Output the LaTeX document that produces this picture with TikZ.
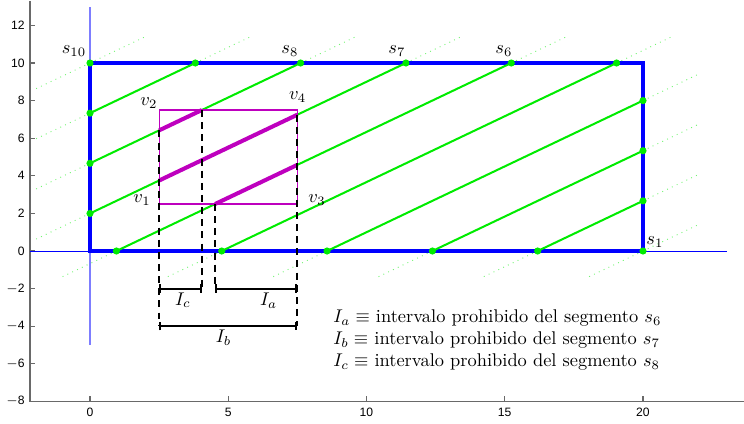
\documentclass[tikz,border=0pt]{standalone}
\usepackage{fontspec}
\newfontfamily\tickfont{Liberation Sans}
\usetikzlibrary{arrows.meta}
\definecolor{lgreen}{RGB}{0,235,0}
\definecolor{mpurple}{RGB}{190,0,190}
\definecolor{axgray}{RGB}{105,105,105}
\definecolor{lblue}{RGB}{125,125,255}
\begin{document}
\begin{tikzpicture}[x=15.03pt,y=10.22pt,
  frame/.style={blue, line width=1.7pt, line join=miter},
  seg/.style={lgreen, line width=1.1pt},
  ext/.style={lgreen!55, line width=0.5pt, dash pattern=on 0.5pt off 2.4pt},
  dot/.style={circle, fill=lgreen, inner sep=0pt, minimum size=3.9pt},
  hl/.style={mpurple, line width=2.2pt},
  guide/.style={black, line width=1.1pt, dash pattern=on 3.8pt off 2.8pt},
  brk/.style={black, line width=1.1pt, {Bar[width=4.6pt]}-{Bar[width=4.6pt]}},
  lab/.style={inner sep=0pt},
  axis/.style={axgray, line width=0.6pt},
  tick/.style={font=\tickfont\fontsize{6.6}{7}\selectfont, inner sep=0pt}]
\useasboundingbox (-3.2550,-9.149) rectangle (23.653,13.351);
% axes
\coordinate (axTL) at (-2.17,13.3);
\coordinate (axBL) at (-2.17,-8);
\coordinate (axBR) at (23.653,-8);
\draw[axis] (axTL) -- (axBL) -- (axBR);
\foreach \y/\t in {-8/$-$8,-6/$-$6,-4/$-$4,-2/$-$2,0/0,2/2,4/4,6/6,8/8,10/10,12/12} {
  \draw[axis] (-2.17,\y) -- ++(0.18,0);
  \node[tick, anchor=east] (yl\y) at ([xshift=-2.7pt]-2.17,\y) {\t};
}
\foreach \x in {0,5,...,20} {
  \draw[axis] (\x,-8) -- ++(0,0.27);
  \node[tick, anchor=north] (xl\x) at ([yshift=-3.6pt]\x,-8) {\x};
}
% reference lines
\coordinate (vtop) at (0,13);
\coordinate (vbot) at (0,-5);
\draw[lblue, line width=0.9pt] (vbot) -- (vtop);
\coordinate (hleft) at (-2.17,0);
\coordinate (hright) at (23.04,0);
\draw[blue, line width=0.55pt] (hleft) -- (hright);
% rectangle
\coordinate (c00) at (0,0);
\coordinate (c20) at (20,0);
\coordinate (c22) at (20,10);
\coordinate (c02) at (0,10);
\draw[frame] (c00) -- (c20) -- (c22) -- (c02) -- cycle;
% intersection points
\coordinate (p1) at (20,0);
\coordinate (b2) at (16.191,0);   \coordinate (r2) at (20,2.667);
\coordinate (b3) at (12.382,0);   \coordinate (r3) at (20,5.334);
\coordinate (b4) at (8.573,0);    \coordinate (r4) at (20,8.001);
\coordinate (b5) at (4.764,0);    \coordinate (t5) at (19.045,10);
\coordinate (b6) at (0.955,0);    \coordinate (t6) at (15.236,10);
\coordinate (l7) at (0,1.9986);   \coordinate (t7) at (11.427,10);
\coordinate (l8) at (0,4.6657);   \coordinate (t8) at (7.618,10);
\coordinate (l9) at (0,7.3329);   \coordinate (t9) at (3.809,10);
\coordinate (p10) at (0,10);
% dotted extensions
\foreach \a in {p1,b2,b3,b4,b5,b6,l7,l8,l9,p10}
  \draw[ext] (\a) -- ++(-2,-1.4004);
\foreach \b in {p1,r2,r3,r4,t5,t6,t7,t8,t9,p10}
  \draw[ext] (\b) -- ++(2,1.4004);
% green segments
\draw[seg] (b2) -- (r2);
\draw[seg] (b3) -- (r3);
\draw[seg] (b4) -- (r4);
\draw[seg] (b5) -- (t5);
\draw[seg] (b6) -- (t6);
\draw[seg] (l7) -- (t7);
\draw[seg] (l8) -- (t8);
\draw[seg] (l9) -- (t9);
\foreach \p in {p1,b2,r2,b3,r3,b4,r4,b5,t5,b6,t6,l7,t7,l8,t8,l9,t9,p10}
  \node[dot] (d\p) at (\p) {};
% magenta box
\coordinate (v1) at (2.5,2.5);
\coordinate (v2) at (2.5,7.5);
\coordinate (v3) at (7.5,2.5);
\coordinate (v4) at (7.5,7.5);
\draw[mpurple, line width=0.55pt] (v1) -- (v3) -- (v4) -- (v2) -- cycle;
\coordinate (h8a) at (2.5,6.4162);  \coordinate (h8b) at (4.0478,7.5);
\coordinate (h7a) at (2.5,3.7491);  \coordinate (h7b) at (7.5,7.2502);
\coordinate (h6a) at (4.5251,2.5);  \coordinate (h6b) at (7.5,4.5831);
\draw[hl] (h8a) -- (h8b);
\draw[hl] (h7a) -- (h7b);
\draw[hl] (h6a) -- (h6b);
% dashed guides and intervals
\coordinate (g1) at (2.5,-4);
\coordinate (g2) at (4.0478,-2);
\coordinate (g3) at (4.5251,-2);
\coordinate (g4) at (7.5,-4);
\coordinate (g1m) at (2.5,-2);
\coordinate (g4m) at (7.5,-2);
\draw[guide] (h8a) -- (g1);
\draw[guide] (h8b) -- (g2);
\draw[guide] (h6a) -- (g3);
\draw[guide] (h7b) -- (g4);
\draw[brk] (g1m) -- (g2);
\draw[brk] (g3) -- (g4m);
\draw[brk] (g1) -- (g4);
\node[lab] (Ic) at (3.36,-2.62) {$I_c$};
\node[lab] (Ia) at (6.46,-2.66) {$I_a$};
\node[lab] (Ib) at (4.83,-4.63) {$I_b$};
% labels
\node[lab] (ls10) at (-0.58,10.64) {$s_{10}$};
\node[lab] (ls8) at (7.23,10.64) {$s_8$};
\node[lab] (ls7) at (11.10,10.64) {$s_7$};
\node[lab] (ls6) at (14.97,10.64) {$s_6$};
\node[lab] (ls1) at (20.43,0.48) {$s_1$};
\node[lab] (lv2) at (2.13,7.87) {$v_2$};
\node[lab] (lv1) at (1.88,2.71) {$v_1$};
\node[lab] (lv4) at (7.51,8.17) {$v_4$};
\node[lab] (lv3) at (8.21,2.71) {$v_3$};
% legend
\node[lab, anchor=west, align=left, font={\fontsize{10}{12}\selectfont}] (legend) at (8.79,-4.73)
  {$I_a \equiv$ intervalo prohibido del segmento $s_6$\\
   $I_b \equiv$ intervalo prohibido del segmento $s_7$\\
   $I_c \equiv$ intervalo prohibido del segmento $s_8$};
\end{tikzpicture}
\end{document}
